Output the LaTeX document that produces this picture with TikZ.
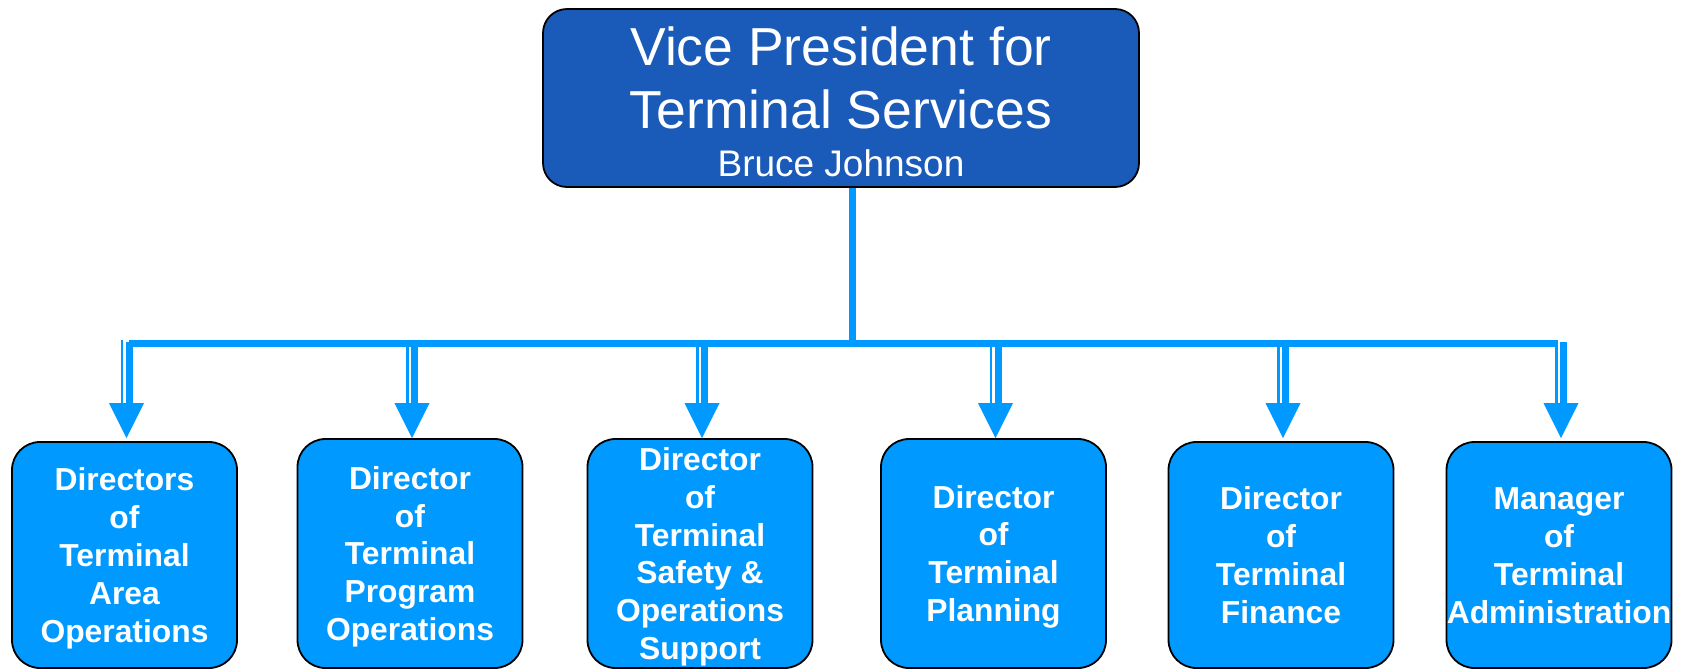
\documentclass[tikz,border=0pt]{standalone}
\usepackage{fontspec}
\setmainfont{Liberation Sans}
\usetikzlibrary{calc}
\definecolor{lblue}{RGB}{0,153,255}
\definecolor{dblue}{RGB}{26,90,184}
\begin{document}
\begin{tikzpicture}[x=1pt,y=-1pt,
  topbox/.style={draw=black, line width=1.8pt, fill=dblue, rounded corners=24pt,
    minimum width=596pt, minimum height=178pt, inner sep=0pt, text=white,
    align=center, font=\fontsize{53.5}{63}\selectfont, text depth=0pt, text height=156pt},
  subbox/.style={draw=black, line width=1.8pt, fill=lblue, rounded corners=28pt,
    minimum width=225pt, inner sep=0pt, text=white, align=center,
    font=\bfseries\fontsize{31.8}{37.8}\selectfont, text depth=0pt},
  feed/.style={draw=lblue, line width=7pt},
  thinshaft/.style={draw=lblue, line width=2.3pt},
  thickshaft/.style={draw=lblue, line width=7pt},
  head/.style={fill=lblue}
  ]
\useasboundingbox (0,0) rectangle (1685,670);
\fill[white] (0,0) rectangle (1685,670);

\node[topbox] (vp) at (841,98) {Vice President for\\Terminal Services\\[-15pt]{\fontsize{37}{43}\selectfont Bruce Johnson}};

\node[subbox, minimum height=226pt, text height=174pt] (b1) at (124.5,555) {Directors\\of\\Terminal\\Area\\Operations};
\node[subbox, minimum height=229pt, text height=174pt] (b2) at (410,553.5) {Director\\of\\Terminal\\Program\\Operations};
\node[subbox, minimum height=229pt, text height=212pt] (b3) at (700,553.5) {Director\\of\\Terminal\\Safety \&\\Operations\\Support};
\node[subbox, minimum height=229pt, text height=136pt] (b4) at (993.5,553.5) {Director\\of\\Terminal\\Planning};
\node[subbox, minimum height=226pt, text height=136pt] (b5) at (1281,555) {Director\\of\\Terminal\\Finance};
\node[subbox, minimum height=226pt, text height=136pt] (b6) at (1559,555) {Manager\\of\\Terminal\\\makebox[0pt]{Administration}};

\coordinate (busL) at (128.5,343.5);
\coordinate (busR) at (1557.5,343.5);
\coordinate (stem) at ($(vp.south)+(11.5,0)$);
\draw[feed] (stem) -- (stem |- busL);
\draw[feed] (busL) -- (busR);

\foreach \i/\h in {1/126.5,2/412,3/702,4/995.5,5/1283,6/1561}{
  \coordinate (a\i) at (\h,340);
  \coordinate (tip\i) at (a\i |- b2.north);
  \fill[head] ($(tip\i)+(-17.5,-35)$) -- ($(tip\i)+(17.5,-35)$) -- (tip\i) -- cycle;
  \draw[thinshaft] ($(a\i)+(-4.5,0)$) -- ($(tip\i)+(-4.5,-34)$);
  \draw[thickshaft] ($(a\i)+(2.5,2)$) -- ($(tip\i)+(2.5,-34)$);
}
\end{tikzpicture}
\end{document}
